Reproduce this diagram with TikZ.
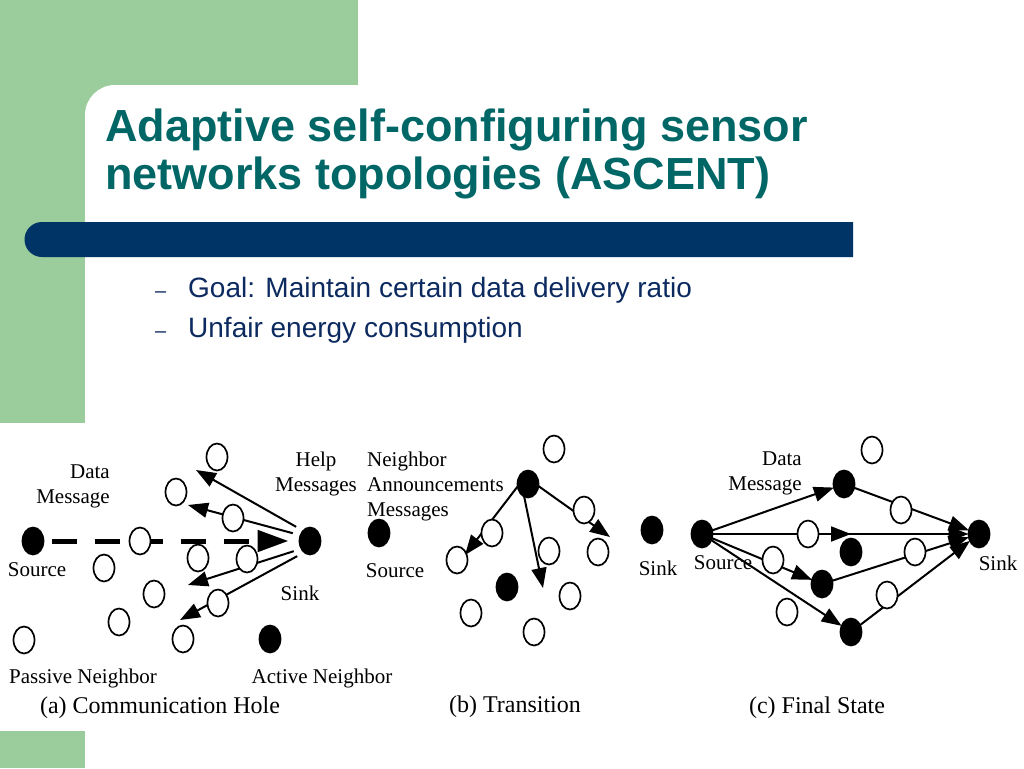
\documentclass[tikz,border=0pt]{standalone}
\usepackage{fontspec}
\setmainfont{Liberation Serif}
\newfontfamily\slidefont{Liberation Sans}
\usepackage{xcolor}
\usetikzlibrary{shapes.geometric,arrows.meta}
\definecolor{slidegreen}{RGB}{155,204,155}
\definecolor{titleteal}{RGB}{0,102,102}
\definecolor{barblue}{RGB}{0,51,102}
\definecolor{textblue}{RGB}{12,42,96}
\tikzset{
  passive/.style={ellipse,draw,fill=white,line width=1.7pt,minimum width=21pt,minimum height=27pt,inner sep=0pt,outer sep=0pt},
  active/.style={passive,fill=black},
  msg/.style={line width=2pt,-{Triangle[length=20pt,width=15pt]}},
  datamsg/.style={line width=5pt,dash pattern=on 25pt off 18pt,-{Triangle[length=31pt,width=21pt]}},
  lbl/.style={font=\fontsize{21}{25}\selectfont,inner sep=0pt},
  subcap/.style={font=\fontsize{24}{28}\selectfont,inner sep=0pt},
  slidetitle/.style={font=\slidefont\fontsize{45}{54}\selectfont\bfseries,text=titleteal,inner sep=0pt,anchor=base west},
  point/.style={font=\slidefont\fontsize{28}{34}\selectfont,text=textblue,inner sep=0pt,anchor=base west}
}
\begin{document}
\begin{tikzpicture}[x=1pt,y=-1pt]
\useasboundingbox (0,0) rectangle (1024,768);
% slide frame
\fill[slidegreen] (0,0) rectangle (358,120);
\fill[slidegreen] (0,0) rectangle (85,423);
\fill[slidegreen] (0,731) rectangle (85,768);
\fill[white] (85,423) -- (85,115) arc[start angle=180,end angle=270,radius=30] -- (358,85) -- (358,423) -- cycle;
\fill[barblue] (853,222) -- (42,222) arc[start angle=270,end angle=90,radius=17.5] -- (853,257) -- cycle;
\node[slidetitle] (title1) at (105,141) {Adaptive self-configuring sensor};
\node[slidetitle] (title2) at (105,189) {networks topologies (ASCENT)};
\foreach \t[count=\i,evaluate=\i as \y using 257+40*\i] in {Goal: Maintain certain data delivery ratio, Unfair energy consumption}
\node[point] (item\i) at (188,\y) {\t}
    node[point,font=\slidefont\fontsize{20}{24}\selectfont] at (155,\y) {\textendash};
% (a) communication hole
\node[active] (srcA) at (33,541) {};
\node[active] (sinkA) at (310,541) {};
\node[active] (actA) at (270,639) {};
\coordinate (helpA1) at (196,470);
\coordinate (helpA2) at (188,505);
\coordinate (helpA3) at (188,585);
\coordinate (helpA4) at (180,620);
\draw[datamsg,shorten <=8pt,shorten >=11pt] (srcA) -- (sinkA);
\foreach \a/\h in {124/helpA1,149/helpA2,222/helpA3,243/helpA4}
  \draw[msg,shorten <=8pt] (sinkA.\a) -- (\h);
\foreach \x/\y[count=\i] in {217/457,176/492,233/518,140/541,104/568,198/558,247/559,154/594,218/603,119/622,183/639,24/640}
  \node[passive] (pasA\i) at (\x,\y) {};
\node[lbl,align=right,anchor=east] (dataA) at (110,486) {Data\\Message};
\node[lbl,align=center] (helpA) at (316,474) {Help\\Messages};
\node[lbl] (srcAl) at (37,570) {Source};
\node[lbl] (sinkAl) at (300,593) {Sink};
\node[lbl] (pasAl) at (83,678) {Passive Neighbor};
\node[lbl] (actAl) at (322,678) {Active Neighbor};
\node[subcap] (capA) at (160,708) {(a) Communication Hole};
% (b) transition
\node[active] (srcB) at (379,533) {};
\node[active] (annB) at (528,484) {};
\node[active] (actB) at (507,587) {};
\coordinate (annB1) at (465,555);
\coordinate (annB2) at (543,588);
\coordinate (annB3) at (610,537);
\foreach \a/\n in {193/annB1,253/annB2,349/annB3}
  \draw[msg] (annB.\a) -- (\n);
\foreach \x/\y[count=\i] in {554/449,492/533,457/560,549/551,584/510,598/552,570/596,471/613,534/632}
  \node[passive] (pasB\i) at (\x,\y) {};
\node[lbl,align=left,anchor=west] (annBl) at (367,486) {Neighbor\\Announcements\\Messages};
\node[lbl] (srcBl) at (395,571) {Source};
\node[subcap] (capB) at (515,707) {(b) Transition};
% (c) final state
\node[active] (sinkC1) at (652,530) {};
\node[active] (srcC) at (702,534) {};
\node[active] (fwdC1) at (844,484) {};
\node[active] (fwdC2) at (851,552) {};
\node[active] (fwdC3) at (822,584) {};
\node[active] (fwdC4) at (851,632) {};
\node[active] (sinkC2) at (979,534) {};
\foreach \n in {fwdC1,fwdC3,fwdC4}
  \draw[msg] (srcC) -- (\n);
\foreach \n in {fwdC1,fwdC3,fwdC4}
  \draw[msg] (\n) -- (sinkC2);
\draw[msg] (srcC) -- (sinkC2);
\draw[msg] (srcC) -- (srcC -| fwdC2);
\foreach \x/\y[count=\i] in {872/450,901/510,808/534,915/552,773/560,887/595,787/612}
  \node[passive] (pasC\i) at (\x,\y) {};
\node[lbl,align=right,anchor=east] (dataC) at (802,473) {Data\\Message};
\node[lbl] (sinkC1l) at (658,568) {Sink};
\node[lbl] (srcCl) at (723,563) {Source};
\node[lbl] (sinkC2l) at (998,563) {Sink};
\node[subcap] (capC) at (817,708) {(c) Final State};
\end{tikzpicture}
\end{document}
